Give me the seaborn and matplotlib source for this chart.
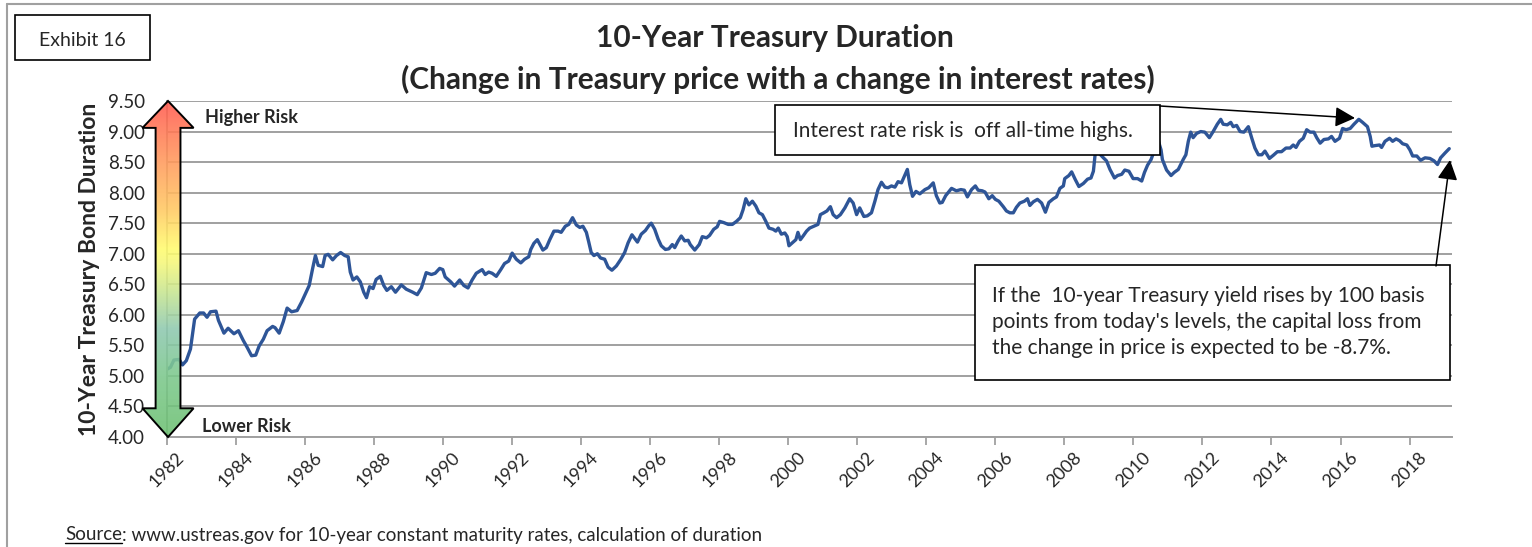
import numpy as np
import pandas as pd
import seaborn as sns
import matplotlib.pyplot as plt
from matplotlib.patches import Polygon, Rectangle, FancyArrowPatch
from matplotlib.lines import Line2D
from matplotlib.colors import LinearSegmentedColormap

# data (decimal year, duration)
years = [
    1982.00, 1982.10, 1982.20, 1982.35, 1982.45, 1982.56, 1982.68, 1982.80, 1982.95, 1983.06,
    1983.16, 1983.26, 1983.42, 1983.49, 1983.65, 1983.77, 1983.94, 1984.07, 1984.21, 1984.32,
    1984.45, 1984.57, 1984.67, 1984.79, 1984.90, 1985.06, 1985.13, 1985.25, 1985.37, 1985.48,
    1985.61, 1985.77, 1985.90, 1986.03, 1986.12, 1986.22, 1986.30, 1986.38, 1986.51, 1986.58,
    1986.67, 1986.80, 1986.91, 1987.03, 1987.15, 1987.25, 1987.31, 1987.39, 1987.50, 1987.60,
    1987.70, 1987.78, 1987.87, 1987.97, 1988.06, 1988.18, 1988.28, 1988.37, 1988.50, 1988.62,
    1988.79, 1988.93, 1989.12, 1989.25, 1989.37, 1989.51, 1989.66, 1989.77, 1989.90, 1989.99,
    1990.06, 1990.22, 1990.33, 1990.48, 1990.60, 1990.72, 1990.84, 1990.96, 1991.13, 1991.22,
    1991.32, 1991.42, 1991.54, 1991.67, 1991.78, 1991.90, 1992.00, 1992.12, 1992.25, 1992.36,
    1992.48, 1992.54, 1992.63, 1992.73, 1992.89, 1992.99, 1993.09, 1993.21, 1993.33, 1993.42,
    1993.54, 1993.64, 1993.75, 1993.86, 1993.96, 1994.05, 1994.15, 1994.22, 1994.29, 1994.37,
    1994.47, 1994.56, 1994.68, 1994.78, 1994.89, 1995.02, 1995.15, 1995.26, 1995.36, 1995.47,
    1995.63, 1995.74, 1995.86, 1995.96, 1996.03, 1996.13, 1996.23, 1996.32, 1996.44, 1996.54,
    1996.64, 1996.71, 1996.81, 1996.90, 1997.00, 1997.10, 1997.16, 1997.29, 1997.42, 1997.51,
    1997.63, 1997.72, 1997.84, 1997.94, 1998.01, 1998.13, 1998.26, 1998.38, 1998.50, 1998.61,
    1998.69, 1998.77, 1998.86, 1998.96, 1999.06, 1999.15, 1999.25, 1999.35, 1999.44, 1999.56,
    1999.64, 1999.71, 1999.80, 1999.90, 1999.97, 2000.02, 2000.12, 2000.22, 2000.28, 2000.35,
    2000.43, 2000.53, 2000.62, 2000.74, 2000.86, 2000.93, 2001.03, 2001.12, 2001.22, 2001.30,
    2001.40, 2001.51, 2001.64, 2001.78, 2001.88, 2001.98, 2002.07, 2002.19, 2002.29, 2002.41,
    2002.51, 2002.60, 2002.70, 2002.80, 2002.89, 2002.99, 2003.09, 2003.18, 2003.28, 2003.38,
    2003.45, 2003.52, 2003.60, 2003.70, 2003.81, 2003.96, 2004.07, 2004.20, 2004.29, 2004.39,
    2004.46, 2004.56, 2004.73, 2004.87, 2005.00, 2005.10, 2005.19, 2005.31, 2005.42, 2005.50,
    2005.62, 2005.70, 2005.81, 2005.91, 2006.00, 2006.10, 2006.23, 2006.32, 2006.42, 2006.52,
    2006.61, 2006.71, 2006.84, 2006.93, 2007.00, 2007.10, 2007.22, 2007.34, 2007.45, 2007.55,
    2007.68, 2007.77, 2007.87, 2007.97, 2008.01, 2008.13, 2008.21, 2008.31, 2008.42, 2008.55,
    2008.67, 2008.77, 2008.84, 2008.88, 2008.95, 2009.03, 2009.13, 2009.22, 2009.32, 2009.45,
    2009.54, 2009.66, 2009.75, 2009.87, 2009.99, 2010.12, 2010.24, 2010.32, 2010.41, 2010.51,
    2010.60, 2010.72, 2010.80, 2010.84, 2010.96, 2011.09, 2011.18, 2011.30, 2011.44, 2011.52,
    2011.59, 2011.66, 2011.73, 2011.83, 2011.95, 2012.07, 2012.20, 2012.31, 2012.43, 2012.53,
    2012.60, 2012.72, 2012.82, 2012.89, 2012.99, 2013.09, 2013.20, 2013.33, 2013.43, 2013.52,
    2013.62, 2013.72, 2013.81, 2013.94, 2014.05, 2014.17, 2014.29, 2014.42, 2014.54, 2014.63,
    2014.71, 2014.81, 2014.92, 2015.02, 2015.12, 2015.23, 2015.31, 2015.41, 2015.52, 2015.65,
    2015.74, 2015.84, 2015.97, 2016.06, 2016.16, 2016.28, 2016.39, 2016.53, 2016.64, 2016.78,
    2016.86, 2016.91, 2017.00, 2017.13, 2017.19, 2017.29, 2017.42, 2017.51, 2017.61, 2017.71,
    2017.80, 2017.92, 2018.01, 2018.09, 2018.21, 2018.32, 2018.45, 2018.59, 2018.71, 2018.81,
    2018.90, 2019.03, 2019.15,
]
duration = [
    5.11, 5.14, 5.26, 5.27, 5.18, 5.25, 5.44, 5.93, 6.03, 6.03,
    5.96, 6.05, 6.06, 5.91, 5.70, 5.78, 5.69, 5.74, 5.58, 5.47,
    5.33, 5.34, 5.49, 5.60, 5.74, 5.81, 5.79, 5.70, 5.89, 6.11,
    6.05, 6.07, 6.21, 6.37, 6.48, 6.76, 6.97, 6.81, 6.79, 6.97,
    6.99, 6.90, 6.97, 7.02, 6.97, 6.95, 6.70, 6.57, 6.62, 6.54,
    6.37, 6.28, 6.46, 6.43, 6.58, 6.63, 6.48, 6.40, 6.46, 6.37,
    6.49, 6.42, 6.37, 6.33, 6.44, 6.69, 6.66, 6.68, 6.76, 6.74,
    6.62, 6.54, 6.47, 6.57, 6.48, 6.44, 6.57, 6.68, 6.74, 6.66,
    6.70, 6.68, 6.63, 6.74, 6.84, 6.88, 7.01, 6.91, 6.85, 6.91,
    6.95, 7.07, 7.17, 7.23, 7.06, 7.10, 7.23, 7.37, 7.37, 7.35,
    7.45, 7.48, 7.59, 7.47, 7.43, 7.45, 7.35, 7.19, 7.02, 6.97,
    7.00, 6.93, 6.91, 6.78, 6.73, 6.80, 6.91, 7.02, 7.18, 7.31,
    7.19, 7.32, 7.38, 7.46, 7.50, 7.40, 7.24, 7.13, 7.07, 7.08,
    7.15, 7.10, 7.21, 7.29, 7.21, 7.22, 7.15, 7.06, 7.15, 7.28,
    7.26, 7.30, 7.40, 7.44, 7.53, 7.51, 7.48, 7.48, 7.53, 7.59,
    7.72, 7.90, 7.80, 7.86, 7.78, 7.67, 7.64, 7.53, 7.42, 7.40,
    7.37, 7.42, 7.32, 7.34, 7.28, 7.13, 7.18, 7.23, 7.35, 7.23,
    7.29, 7.37, 7.42, 7.45, 7.48, 7.64, 7.67, 7.70, 7.77, 7.64,
    7.59, 7.64, 7.75, 7.90, 7.83, 7.64, 7.75, 7.61, 7.62, 7.67,
    7.86, 8.05, 8.17, 8.09, 8.08, 8.11, 8.09, 8.18, 8.16, 8.29,
    8.38, 8.13, 7.94, 8.02, 7.98, 8.05, 8.08, 8.16, 7.95, 7.83,
    7.84, 7.95, 8.07, 8.03, 8.05, 8.04, 7.93, 8.05, 8.11, 8.04,
    8.03, 8.01, 7.90, 7.95, 7.89, 7.86, 7.77, 7.70, 7.67, 7.67,
    7.76, 7.83, 7.86, 7.90, 7.79, 7.85, 7.89, 7.83, 7.68, 7.84,
    7.90, 7.93, 8.07, 8.11, 8.23, 8.28, 8.34, 8.22, 8.10, 8.15,
    8.22, 8.24, 8.35, 8.57, 8.95, 8.63, 8.57, 8.52, 8.38, 8.24,
    8.28, 8.30, 8.37, 8.35, 8.23, 8.23, 8.19, 8.33, 8.45, 8.54,
    8.68, 8.85, 8.70, 8.54, 8.37, 8.28, 8.33, 8.38, 8.54, 8.62,
    8.84, 8.99, 8.90, 8.97, 9.00, 8.99, 8.90, 9.00, 9.12, 9.20,
    9.12, 9.11, 9.15, 9.08, 9.10, 9.00, 8.99, 9.08, 8.89, 8.73,
    8.62, 8.62, 8.68, 8.56, 8.61, 8.67, 8.67, 8.73, 8.73, 8.78,
    8.74, 8.84, 8.89, 9.03, 8.99, 8.99, 8.90, 8.81, 8.87, 8.88,
    8.92, 8.84, 8.89, 9.05, 9.03, 9.05, 9.12, 9.20, 9.15, 9.08,
    8.92, 8.76, 8.77, 8.78, 8.74, 8.84, 8.89, 8.84, 8.88, 8.85,
    8.80, 8.78, 8.70, 8.60, 8.60, 8.53, 8.57, 8.56, 8.52, 8.46,
    8.57, 8.65, 8.72,
]
year_ticks = list(range(1982, 2019, 2))
y_ticks = [4.0 + 0.5 * i for i in range(12)]

W, H = 1532, 547


def fxy(x, y):
    # pixel position (from top-left) -> figure fraction
    return x / W, 1 - y / H


sns.set_style("white")
plt.rcParams["font.family"] = ["Lato", "DejaVu Sans"]

fig = plt.figure(figsize=(W / 100, H / 100), dpi=100)
ax = fig.add_axes([167 / W, 1 - 437 / H, (1452 - 167) / W, (437 - 101) / H])

df = pd.DataFrame({"year": years, "duration": duration})
sns.lineplot(data=df, x="year", y="duration", ax=ax, color="#2E5597",
             linewidth=2.4, zorder=2)

# risk arrow with gradient fill
c = 1982.03
verts = [(c, 9.5), (c + 0.74, 9.06), (c + 0.36, 9.06), (c + 0.36, 4.47),
         (c + 0.74, 4.47), (c, 4.0), (c - 0.74, 4.47), (c - 0.36, 4.47),
         (c - 0.36, 9.06), (c - 0.74, 9.06)]
cmap = LinearSegmentedColormap.from_list("risk", [
    (0.0, "#6CC071"), (0.18, "#7CC88C"), (0.32, "#8EC9B0"), (0.42, "#C2E394"),
    (0.52, "#F6F87A"), (0.56, "#FFFC6E"), (0.68, "#FFC862"), (0.82, "#FF9A5C"),
    (1.0, "#FF5A50")])
grad = np.linspace(0, 1, 256).reshape(-1, 1)
im = ax.imshow(grad, extent=[c - 0.74, c + 0.74, 4.0, 9.5], origin="lower",
               aspect="auto", cmap=cmap, alpha=0.88, zorder=3)
clip_poly = Polygon(verts, closed=True, transform=ax.transData)
im.set_clip_box(fig.bbox)
im.set_clip_path(clip_poly)
ax.add_patch(Polygon(verts, closed=True, fill=False, edgecolor="black",
                     linewidth=1.4, clip_on=False, zorder=4))

ax.set_xlim(1982, 2019.23)
ax.set_ylim(4, 9.5)
ax.set_xticks(year_ticks)
ax.set_xticklabels([str(y) for y in year_ticks], rotation=45, ha="center",
                   va="top", fontsize=13)
ax.set_yticks(y_ticks)
ax.set_yticklabels([f"{v:.2f}" for v in y_ticks], fontsize=13.5)
ax.tick_params(axis="y", length=0, pad=16)
ax.tick_params(axis="x", length=6, width=1.3, color="#A0A0A0", pad=3,
               direction="out", bottom=True)
ax.yaxis.grid(True, color="#A0A0A0", linewidth=1.4)
ax.set_axisbelow(True)
for side in ["top", "right"]:
    ax.spines[side].set_visible(False)
for side in ["left", "bottom"]:
    ax.spines[side].set_color("#A0A0A0")
    ax.spines[side].set_linewidth(1.4)
ax.set_xlabel("")
ax.set_ylabel("10-Year Treasury Bond Duration", fontsize=16.5, fontweight="bold")
ax.yaxis.set_label_coords(-0.052, 0.5)

ax.text(*fxy(205, 117), "Higher Risk", transform=fig.transFigure,
        fontsize=13, fontweight="bold", va="center", ha="left", zorder=6)
ax.text(*fxy(202, 426), "Lower Risk", transform=fig.transFigure,
        fontsize=13, fontweight="bold", va="center", ha="left", zorder=6)

# titles and frame
fig.text(*fxy(775, 38), "10-Year Treasury Duration", ha="center", va="center",
         fontsize=21.5, fontweight="bold")
fig.text(*fxy(778, 79), "(Change in Treasury price with a change in interest rates)",
         ha="center", va="center", fontsize=21.5, fontweight="bold")
fig.add_artist(Line2D([7 / W, 1], [1 - 4 / H, 1 - 4 / H], color="#A0A0A0", lw=1.5))
fig.add_artist(Line2D([7 / W, 7 / W], [0, 1 - 4 / H], color="#A0A0A0", lw=1.5))
fig.add_artist(Rectangle(fxy(15, 60), 135 / W, 45 / H, transform=fig.transFigure,
                         facecolor="white", edgecolor="black", lw=1.2))
fig.text(*fxy(82, 40), "Exhibit 16", ha="center", va="center", fontsize=14)

# callout 1
fig.add_artist(Rectangle(fxy(775, 155), 385 / W, 50 / H, transform=fig.transFigure,
                         facecolor="white", edgecolor="black", lw=1.2, zorder=5))
fig.text(*fxy(793, 131), "Interest rate risk is  off all-time highs.", ha="left",
         va="center", fontsize=15, zorder=6)
fig.add_artist(FancyArrowPatch(fxy(1160, 106), fxy(1355, 118), transform=fig.transFigure,
                               arrowstyle="-|>,head_length=0.55,head_width=0.28",
                               mutation_scale=22, color="black", lw=1.1,
                               shrinkA=0, shrinkB=0, zorder=6))

# callout 2
fig.add_artist(Rectangle(fxy(975, 380), 475 / W, 115 / H, transform=fig.transFigure,
                         facecolor="white", edgecolor="black", lw=1.2, zorder=5))
callout = ("If the  10-year Treasury yield rises by 100 basis\n"
           "points from today's levels, the capital loss from\n"
           "the change in price is expected to be -8.7%.")
fig.text(*fxy(992, 322), callout, ha="left", va="center", fontsize=15,
         linespacing=1.4, zorder=6)
fig.add_artist(FancyArrowPatch(fxy(1436, 266), fxy(1450, 160), transform=fig.transFigure,
                               arrowstyle="-|>,head_length=0.55,head_width=0.28",
                               mutation_scale=22, color="black", lw=1.1,
                               shrinkA=0, shrinkB=0, zorder=6))

# source line with underlined "Source"
src = fig.text(*fxy(65, 535), "Source", ha="left", va="center", fontsize=13.5)
fig.canvas.draw()
bb = src.get_window_extent().transformed(fig.transFigure.inverted())
fig.text(bb.x1, fxy(0, 535)[1], ": www.ustreas.gov for 10-year constant maturity rates, calculation of duration",
         ha="left", va="center", fontsize=13.5)
fig.add_artist(Line2D([bb.x0, bb.x1], [bb.y0 + 0.5 / H, bb.y0 + 0.5 / H],
                      color="black", lw=1.0))

fig.savefig("out.png", dpi=100)
